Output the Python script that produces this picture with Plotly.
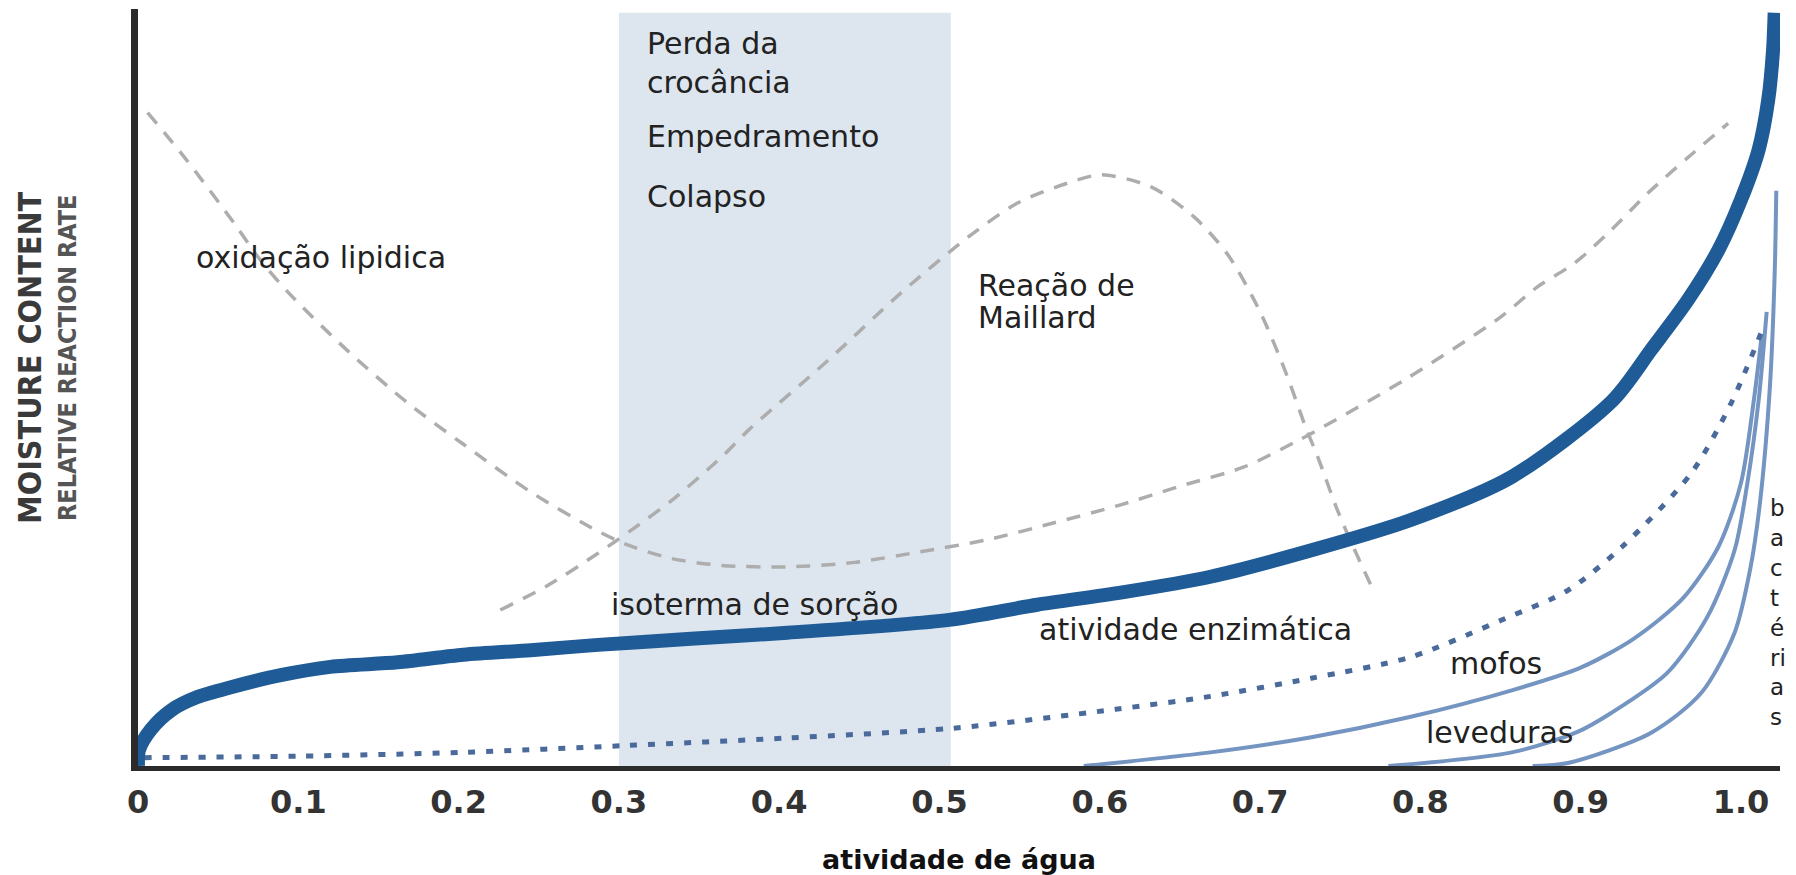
import plotly.graph_objects as go

# ---------------- data ----------------
tick_vals = [0, 0.1, 0.2, 0.3, 0.4, 0.5, 0.6, 0.7, 0.8, 0.9, 1.0]
tick_text = ["0", "0.1", "0.2", "0.3", "0.4", "0.5", "0.6", "0.7", "0.8", "0.9", "1.0"]

band_range = [0.3, 0.507]   # shaded zone (perda da crocância etc.)
band_top = 0.995

isotherm_x = [0, 0.0006, 0.008, 0.021, 0.037, 0.058, 0.089, 0.12, 0.162, 0.203, 0.245,
              0.287, 0.345, 0.405, 0.506, 0.561, 0.613, 0.669, 0.732, 0.794, 0.857,
              0.92, 0.944, 0.967, 0.986, 1.0, 1.011, 1.017, 1.02, 1.021]
isotherm_y = [0, 0.021, 0.048, 0.074, 0.091, 0.104, 0.12, 0.131, 0.137, 0.147, 0.153,
              0.16, 0.168, 0.176, 0.193, 0.213, 0.229, 0.25, 0.285, 0.325, 0.382,
              0.483, 0.55, 0.616, 0.682, 0.748, 0.814, 0.88, 0.946, 0.995]

oxid_x = [0.006, 0.029, 0.06, 0.075, 0.094, 0.13, 0.168, 0.203, 0.245, 0.287, 0.308, 0.333,
          0.364, 0.405, 0.447, 0.488, 0.53, 0.571, 0.613, 0.649, 0.69, 0.721, 0.736,
          0.79, 0.85, 0.873, 0.896, 0.919, 0.942, 0.967, 0.992]
oxid_y = [0.863, 0.804, 0.717, 0.672, 0.625, 0.55, 0.48, 0.425, 0.362, 0.31, 0.29, 0.274,
          0.265, 0.263, 0.269, 0.283, 0.299, 0.321, 0.345, 0.369, 0.395, 0.427, 0.444,
          0.51, 0.593, 0.633, 0.664, 0.708, 0.757, 0.804, 0.849]

maillard_x = [0.226, 0.256, 0.287, 0.308, 0.333, 0.364, 0.381, 0.43, 0.476, 0.518, 0.549,
              0.58, 0.601, 0.632, 0.659, 0.68, 0.70, 0.716, 0.728, 0.736, 0.749, 0.761, 0.770]
maillard_y = [0.206, 0.239, 0.281, 0.312, 0.351, 0.408, 0.444, 0.535, 0.625, 0.699, 0.744,
              0.770, 0.781, 0.765, 0.725, 0.675, 0.60, 0.52, 0.45, 0.408, 0.334, 0.276, 0.235]

enzyme_x = [0.004, 0.1, 0.203, 0.304, 0.405, 0.509, 0.61, 0.669, 0.732, 0.794, 0.853,
            0.892, 0.926, 0.969, 0.994, 1.014]
enzyme_y = [0.011, 0.013, 0.018, 0.027, 0.037, 0.05, 0.075, 0.092, 0.116, 0.144, 0.195,
            0.232, 0.29, 0.387, 0.48, 0.58]

mofos_x = [0.59, 0.669, 0.732, 0.794, 0.857, 0.9, 0.933, 0.964, 0.986, 1.0, 1.008, 1.013]
mofos_y = [0.0, 0.018, 0.038, 0.065, 0.10, 0.13, 0.168, 0.222, 0.29, 0.374, 0.483, 0.57]

leved_x = [0.78, 0.857, 0.898, 0.919, 0.954, 0.979, 0.996, 1.004, 1.011, 1.016]
leved_y = [0.0, 0.018, 0.045, 0.07, 0.123, 0.197, 0.285, 0.374, 0.483, 0.6]

bact_x = [0.87, 0.892, 0.944, 0.975, 0.996, 1.006, 1.012, 1.018, 1.021, 1.022]
bact_y = [0.0, 0.004, 0.044, 0.096, 0.176, 0.263, 0.351, 0.5, 0.65, 0.76]

# ---------------- styles ----------------
DARK_BLUE = "#1f5b96"
DOT_BLUE = "#4a6a9c"
LIGHT_BLUE = "#7494c2"
GRAY = "#adadad"
TXT = "#222222"
LABEL_FONT = "DejaVu Sans"
NARROW = "Liberation Sans Narrow, DejaVu Sans Condensed, Liberation Sans"

fig = go.Figure()

fig.add_shape(type="rect", xref="x", yref="y", x0=band_range[0], x1=band_range[1],
              y0=0, y1=band_top, fillcolor="#dde6ef", line=dict(width=0), layer="below")

def add_line(x, y, color, width, dash="solid", smooth=0.8):
    fig.add_trace(go.Scatter(x=x, y=y, mode="lines",
                             line=dict(color=color, width=width, dash=dash,
                                       shape="spline", smoothing=smooth),
                             hoverinfo="skip", showlegend=False, cliponaxis=False))

add_line(oxid_x, oxid_y, GRAY, 3.5, "14px,11px")
add_line(maillard_x, maillard_y, GRAY, 3.5, "14px,11px")
add_line(bact_x, bact_y, LIGHT_BLUE, 4)
add_line(leved_x, leved_y, LIGHT_BLUE, 4)
add_line(mofos_x, mofos_y, LIGHT_BLUE, 4)
add_line(enzyme_x, enzyme_y, DOT_BLUE, 5, "7px,11px")
add_line(isotherm_x, isotherm_y, DARK_BLUE, 14)

def label(text, x, y, size=30, **kw):
    fig.add_annotation(text=text, x=x, y=y, xref="x", yref="y", showarrow=False,
                       xanchor="left", yanchor="middle",
                       font=dict(family=LABEL_FONT, size=size, color=TXT), **kw)

label("oxidação lipidica", 0.035, 0.672)
label("Perda da<br>crocância", 0.316, 0.929, align="left")
label("Empedramento", 0.316, 0.831)
label("Colapso", 0.316, 0.752)
label("Reação de", 0.523, 0.635)
label("Maillard", 0.523, 0.593)
label("isoterma de sorção", 0.294, 0.213)
label("atividade enzimática", 0.561, 0.180)
label("mofos", 0.817, 0.136)
label("leveduras", 0.802, 0.044)
label("b<br>a<br>c<br>t<br>é<br>ri<br>a<br>s", 1.017, 0.203, size=23, align="left")

# y-axis titles (rotated)
fig.add_annotation(text="<b>MOISTURE CONTENT</b>", xref="paper", yref="paper",
                   x=(30 - 138) / 1642, y=0.539, textangle=-90, showarrow=False,
                   xanchor="center", yanchor="middle",
                   font=dict(family=NARROW, size=32, color="#3a3a3a"))
fig.add_annotation(text="<b>RELATIVE REACTION RATE</b>", xref="paper", yref="paper",
                   x=(68 - 138) / 1642, y=0.539, textangle=-90, showarrow=False,
                   xanchor="center", yanchor="middle",
                   font=dict(family=NARROW, size=25, color="#555555"))

fig.update_xaxes(range=[0, 1642 / 1603], tickvals=tick_vals, ticktext=tick_text,
                 showline=True, linecolor="#2b2b2b", linewidth=5, ticks="",
                 showgrid=False, zeroline=False, ticklabelstandoff=4,
                 tickfont=dict(family="DejaVu Sans", size=32, color="#333333", weight="bold"),
                 title=dict(text="<b>atividade de água</b>", standoff=35,
                            font=dict(family="DejaVu Sans", size=27, color="#111111")))
fig.update_yaxes(range=[0, 1], showline=True, linecolor="#2b2b2b", linewidth=7,
                 showticklabels=False, ticks="", showgrid=False, zeroline=False)

# page body adds an 8px margin: figure is sized/offset so the plot lands where the reference has it
fig.update_layout(width=1788, height=867, margin=dict(l=130, r=16, t=1, b=109),
                  plot_bgcolor="white", paper_bgcolor="white", showlegend=False)

fig.write_html("out.html", config={"displayModeBar": False})
